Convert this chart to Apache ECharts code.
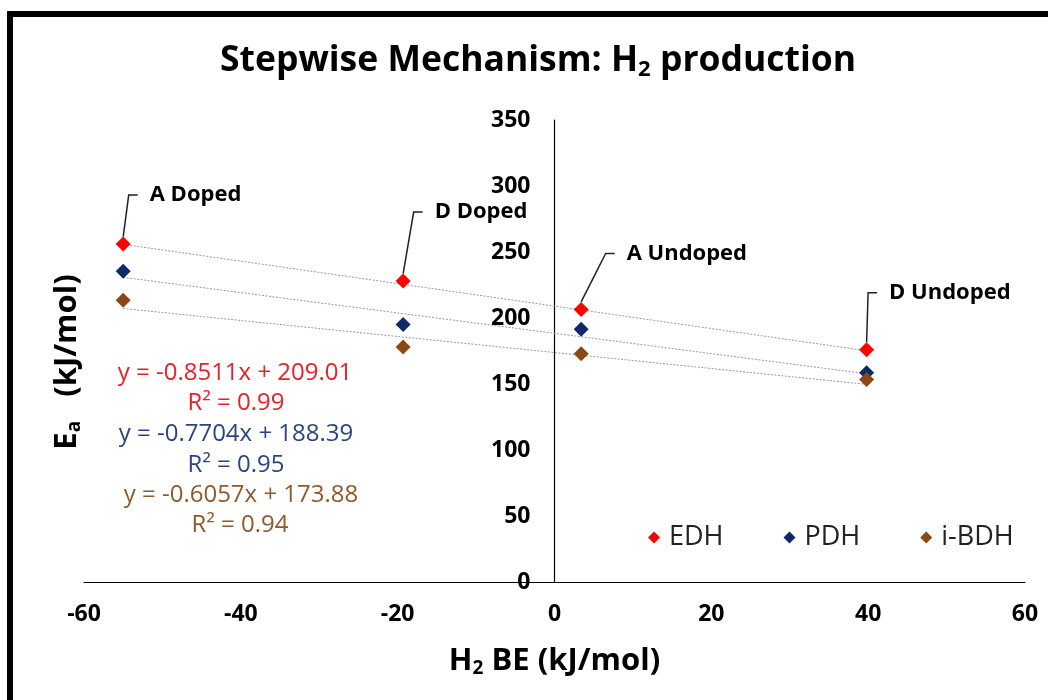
<!DOCTYPE html>
<html>
<head>
<meta charset="utf-8">
<script src="https://cdn.jsdelivr.net/npm/echarts@6/dist/echarts.min.js"></script>
<style>
html,body{margin:0;padding:0;background:#fff;}
#chart{width:1048px;height:700px;}
</style>
</head>
<body>
<div id="chart"></div>
<script>
// ---- data ----
var seriesNames = ['EDH', 'PDH', 'i-BDH'];
var xValues = [-55, -19.3, 3.4, 39.8];
var edhValues = [256, 228, 206.5, 176];
var pdhValues = [235.5, 195, 191.5, 158.5];
var ibdhValues = [213.5, 178, 173, 153.5];
var pointLabels = ['A Doped', 'D Doped', 'A Undoped', 'D Undoped'];
// trendline endpoints (x, y)
var trendX = [-55, 40];
var edhTrend = [255.8, 175.0];
var pdhTrend = [230.8, 157.6];
var ibdhTrend = [207.2, 149.6];
var equations = [
  'y = -0.8511x + 209.01', 'R² = 0.99',
  'y = -0.7704x + 188.39', 'R² = 0.95',
  'y = -0.6057x + 173.88', 'R² = 0.94'
];
var xTicks = {min: -60, max: 60, interval: 20};
var yTicks = {min: 0, max: 350, interval: 50};

// ---- styles ----
var FONT = 'Open Sans';
var colors = ['#FF0000', '#0E2A6A', '#8B4716'];
var eqColors = ['#E42228', '#E42228', '#2C4581', '#2C4581', '#8E5A2B', '#8E5A2B'];
var eqPos = [[235, 373], [236, 403], [236, 434], [236, 465], [241, 495], [240, 525]];
var labelShift = [[2, -49], [7, -69], [21, -56], [-2, -57]];
var GRID_LEFT = 84;

function pairs(xs, ys) { return xs.map(function (x, i) { return [x, ys[i]]; }); }
var valueSets = [edhValues, pdhValues, ibdhValues];
var trendSets = [edhTrend, pdhTrend, ibdhTrend];

var series = [];
trendSets.forEach(function (t, i) {
  series.push({
    type: 'line', name: seriesNames[i] + ' trend', data: pairs(trendX, t),
    symbol: 'none', silent: true, z: 1,
    lineStyle: {color: '#9a9a9a', width: 1, type: [2, 1.5]}
  });
});
valueSets.forEach(function (v, i) {
  var s = {
    type: 'scatter', name: seriesNames[i], data: pairs(xValues, v),
    symbol: 'diamond', symbolSize: 15, z: 3,
    itemStyle: {color: colors[i], opacity: 1}
  };
  if (i === 0) {
    s.label = {
      show: true, position: 'right', distance: 5,
      formatter: function (p) { return pointLabels[p.dataIndex]; },
      fontFamily: FONT, fontWeight: 'bold', fontSize: 22, color: '#000',
      padding: [0, 0, 0, 12], backgroundColor: 'rgba(255,255,255,0)'
    };
    s.labelLayout = function (p) {
      return {dx: labelShift[p.dataIndex][0], dy: labelShift[p.dataIndex][1]};
    };
    s.labelLine = {show: true, length2: 9, lineStyle: {color: '#222', width: 1.5}};
  }
  series.push(s);
});

var graphics = [
  {type: 'rect', shape: {x: 10, y: 14, width: 1200, height: 900},
   style: {fill: 'none', stroke: '#000', lineWidth: 6}, z: 100},
  {type: 'text', x: 67, y: 362, rotation: Math.PI / 2,
   style: {text: '{a|E}{s|a}{a|   (kJ/mol)}', align: 'center', verticalAlign: 'middle',
     rich: {a: {fontFamily: FONT, fontWeight: 'bold', fontSize: 31, fill: '#000'},
            s: {fontFamily: FONT, fontWeight: 'bold', fontSize: 19, fill: '#000', padding: [15, 0, 0, 0]}}}}
];
equations.forEach(function (e, i) {
  graphics.push({type: 'text', x: eqPos[i][0], y: eqPos[i][1],
    style: {text: e, align: 'center', verticalAlign: 'middle',
      fontFamily: FONT, fontSize: 24, fill: eqColors[i]}});
});

var chart = echarts.init(document.getElementById('chart'), null, {renderer: 'canvas'});
var option = {
  animation: false,
  backgroundColor: '#fff',
  title: {
    text: '{a|Stepwise Mechanism: H}{s|2}{a| production}',
    left: 215, top: 36,
    textStyle: {
      rich: {a: {fontFamily: FONT, fontWeight: 'bold', fontSize: 35.5, color: '#000'},
             s: {fontFamily: FONT, fontWeight: 'bold', fontSize: 22, color: '#000', padding: [18, 0, 0, 0]}}
    }
  },
  legend: {
    data: seriesNames, left: 643, top: 519, itemGap: 60, itemWidth: 12, itemHeight: 12,
    icon: 'diamond',
    textStyle: {fontFamily: FONT, fontSize: 27, color: '#222', padding: [0, 0, 0, 4]}
  },
  grid: {left: GRID_LEFT, right: 23, top: 120, bottom: 118, containLabel: false},
  xAxis: {
    type: 'value', min: xTicks.min, max: xTicks.max, interval: xTicks.interval,
    splitLine: {show: false}, axisTick: {show: false},
    axisLine: {lineStyle: {color: '#000', width: 1.2}},
    axisLabel: {margin: 21, fontFamily: FONT, fontWeight: 'bold', fontSize: 23, color: '#000'},
    name: '{a|H}{s|2}{a| BE (kJ/mol)}', nameLocation: 'middle', nameGap: 62,
    nameTextStyle: {rich: {a: {fontFamily: FONT, fontWeight: 'bold', fontSize: 31, color: '#000'},
                           s: {fontFamily: FONT, fontWeight: 'bold', fontSize: 19, color: '#000', padding: [15, 0, 0, 0]}}}
  },
  yAxis: {
    type: 'value', min: yTicks.min, max: yTicks.max, interval: yTicks.interval,
    position: 'left', offset: 0,
    splitLine: {show: false}, axisTick: {show: false},
    axisLine: {onZero: false, lineStyle: {color: '#000', width: 1.2}},
    axisLabel: {margin: 24, fontFamily: FONT, fontWeight: 'bold', fontSize: 23, color: '#000'}
  },
  graphic: graphics,
  series: series
};
chart.setOption(option);
// move the y axis (line and labels) to x = 0, as in the reference
var zeroPx = chart.convertToPixel({xAxisIndex: 0}, 0);
chart.setOption({yAxis: {offset: -(zeroPx - GRID_LEFT)}});
</script>
</body>
</html>
